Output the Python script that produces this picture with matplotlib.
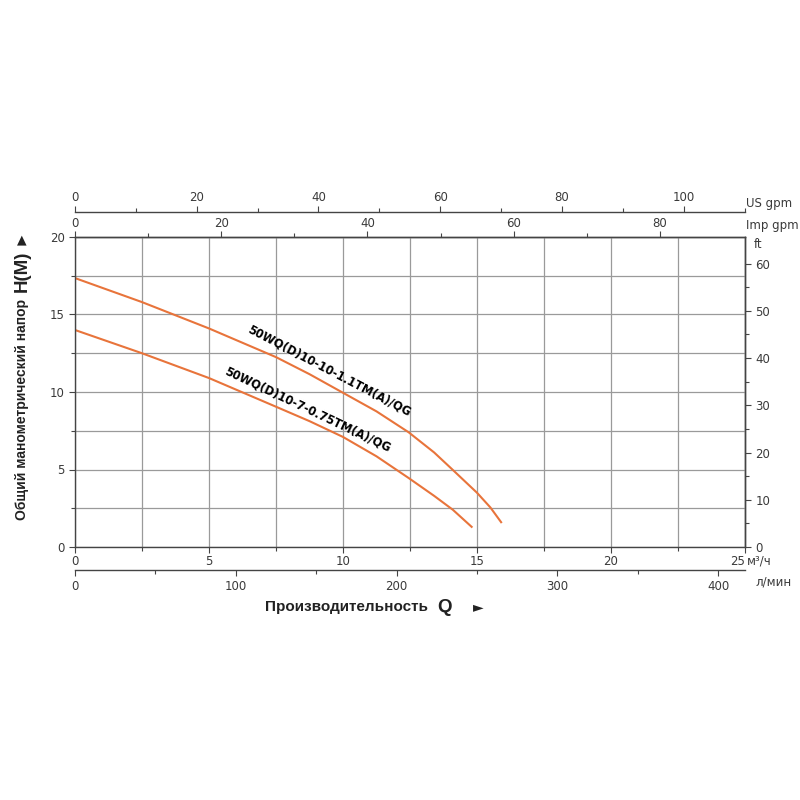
import numpy as np
import matplotlib.pyplot as plt

plt.rcParams['font.family'] = ['DejaVu Sans']

# pump curves, flow in m3/h, head in m
q_big = [0, 2.5, 5, 7.5, 8.75, 10, 11.25, 12.45, 13.4, 14.05, 15, 15.5, 15.9]
h_big = [17.35, 15.8, 14.1, 12.25, 11.15, 9.95, 8.75, 7.4, 6.1, 5.05, 3.5, 2.55, 1.6]
q_small = [0, 2.5, 5, 7.5, 8.75, 10, 11.25, 12.45, 13.4, 14.1, 14.8]
h_small = [14.0, 12.5, 10.9, 9.05, 8.12, 7.1, 5.85, 4.45, 3.3, 2.4, 1.3]
name_big = '50WQ(D)10-10-1.1TM(A)/QG'
name_small = '50WQ(D)10-7-0.75TM(A)/QG'

US_GPM = 4.4029
IMP_GPM = 3.6662
LPM = 1000 / 60
FT = 3.2808

curve_color = '#e8743b'
grid_color = '#9a9a9a'
text_color = '#3a3a3a'
title_font = ['Liberation Sans', 'DejaVu Sans']

fig = plt.figure(figsize=(8, 8), dpi=100)
ax = fig.add_axes([75 / 800, 1 - 547 / 800, 670 / 800, 310 / 800])

ax.plot(q_big, h_big, color=curve_color, lw=1.5)
ax.plot(q_small, h_small, color=curve_color, lw=1.5)

ax.set_xlim(0, 25)
ax.set_ylim(0, 20)
ax.set_xticks(np.arange(0, 26, 5))
ax.set_xticks(np.arange(0, 26, 2.5), minor=True)
ax.set_yticks(np.arange(0, 21, 5))
ax.set_yticks(np.arange(0, 21, 2.5), minor=True)
ax.grid(True, which='both', color=grid_color, lw=0.9)
ax.set_axisbelow(True)
ax.tick_params(which='both', direction='out', colors='#444444', labelcolor=text_color,
               labelsize=8.5, length=4, width=0.8)
ax.tick_params(which='minor', length=3)
ax.tick_params(axis='x', pad=2)
ax.get_xticklabels()[-1].set_horizontalalignment('right')
for s in ax.spines.values():
    s.set_color('#444444')
    s.set_linewidth(1.0)

# secondary scales
imp = ax.secondary_xaxis('top', functions=(lambda x: x * IMP_GPM, lambda x: x / IMP_GPM))
imp.set_xticks(np.arange(0, 81, 20))
imp.set_xticks(np.arange(10, 81, 20), minor=True)

us = ax.secondary_xaxis(1 + 25 / 310, functions=(lambda x: x * US_GPM, lambda x: x / US_GPM))
us.set_xticks(np.arange(0, 101, 20))
us.set_xticks(np.arange(10, 111, 20), minor=True)

lpm = ax.secondary_xaxis(-23 / 310, functions=(lambda x: x * LPM, lambda x: x / LPM))
lpm.set_xticks(np.arange(0, 401, 100))
lpm.set_xticks(np.arange(50, 401, 100), minor=True)

ft = ax.secondary_yaxis('right', functions=(lambda y: y * FT, lambda y: y / FT))
ft.set_yticks(np.arange(0, 61, 10))
ft.set_yticks(np.arange(5, 61, 10), minor=True)

for sec in (imp, us, lpm, ft):
    sec.tick_params(which='both', direction='out', colors='#444444', labelcolor=text_color,
                    labelsize=8.5, length=4, width=0.8)
    sec.tick_params(which='minor', length=3)
    for s in sec.spines.values():
        s.set_color('#444444')
        s.set_linewidth(1.0)
imp.tick_params(pad=1)
us.tick_params(pad=2)

# unit labels
unit_kw = dict(transform=fig.transFigure, fontsize=8.5, color=text_color, va='center', ha='left')
fig.text(746 / 800, 1 - 204 / 800, 'US gpm', **unit_kw)
fig.text(746 / 800, 1 - 226 / 800, 'Imp gpm', **unit_kw)
fig.text(754 / 800, 1 - 245 / 800, 'ft', **unit_kw)
fig.text(747 / 800, 1 - 561 / 800, 'м³/ч', **unit_kw)
fig.text(755 / 800, 1 - 582 / 800, 'л/мин', **unit_kw)

# curve names
ax.text(9.48, 11.35, name_big, rotation=-27.6, rotation_mode='anchor',
        ha='center', va='center', fontsize=8.3, fontweight='bold', color='black')
ax.text(8.66, 8.84, name_small, rotation=-25.4, rotation_mode='anchor',
        ha='center', va='center', fontsize=8.3, fontweight='bold', color='black')

# axis titles
fig.text(428 / 800, 1 - 607 / 800, 'Производительность', family=title_font, fontsize=11,
         fontweight='bold', ha='right', va='center', color='#222222')
fig.text(445 / 800, 1 - 607 / 800, 'Q', family=title_font, fontsize=13.5, fontweight='bold',
         ha='center', va='center', color='#222222')
fig.text(478 / 800, 1 - 607 / 800, '►', fontsize=10, ha='center', va='center', color='#222222')

fig.text(22 / 800, 1 - 409 / 800, 'Общий манометрический напор', family=title_font,
         fontsize=10, fontweight='bold', rotation=90, ha='center', va='center', color='#222222')
fig.text(22 / 800, 1 - 271 / 800, 'H(M)', family=title_font, fontsize=13.5, fontweight='bold',
         rotation=90, ha='center', va='center', color='#222222')
fig.text(22 / 800, 1 - 240 / 800, '▲', fontsize=9, ha='center', va='center', color='#222222')

fig.savefig('out.png', dpi=100)
